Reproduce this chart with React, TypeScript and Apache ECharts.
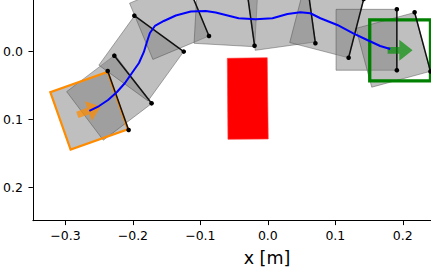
import React, { useEffect, useRef } from "react";
import * as echarts from "echarts";

// Axis ranges and ticks
const xTicks = [-0.3, -0.2, -0.1, 0.0, 0.1, 0.2];
const yTicks = [0.0, 0.1, 0.2];
const X_MIN = -0.3482;
const X_MAX = 0.2418;
const Y_MIN = -0.0764;
const Y_MAX = 0.2498;

// Object side length [m]
const SIDE = 0.09;

// Object snapshots (center x, center y, heading deg)
const poseX = [-0.2649, -0.2351, -0.1876, -0.1461, -0.0619, 0.0197, 0.0873, 0.1461, 0.1857];
const poseY = [0.0873, 0.0678, 0.0099, -0.0474, -0.0548, -0.0528, -0.0458, -0.0176, -0.0027];
const poseTheta = [-19.5, -37.1, -54.1, -22.6, 3.2, -7.9, 14.5, 0, -15.1];

// Pusher segments (endpoints)
const segX1 = [-0.2373, -0.2275, -0.1978, -0.1219, -0.0321, 0.0581, 0.1421, 0.1912, 0.2175];
const segY1 = [0.0285, 0.0059, -0.0532, -0.1064, -0.0981, -0.1017, -0.0779, -0.0627, -0.0582];
const segX2 = [-0.2063, -0.1723, -0.1246, -0.0872, -0.0197, 0.0705, 0.1197, 0.1912, 0.2411];
const segY2 = [0.1157, 0.0763, -0.0001, -0.0232, -0.0089, -0.0124, 0.0089, 0.0275, 0.0293];

// Trajectory of the object center
const trajX = [-0.2645, -0.2501, -0.2368, -0.2236, -0.2117, -0.2014, -0.191, -0.1837, -0.1792, -0.1748, -0.1674, -0.1541, -0.1364, -0.1142, -0.092, -0.0773, -0.0625, -0.0433, -0.0182, 0.0069, 0.0291, 0.0483, 0.0631, 0.0779, 0.103, 0.1266, 0.1473, 0.1665, 0.1813];
const trajY = [0.0876, 0.0803, 0.0714, 0.0596, 0.0463, 0.0315, 0.0167, 0.0004, -0.0143, -0.0276, -0.038, -0.0454, -0.0535, -0.0594, -0.0602, -0.0579, -0.0542, -0.0494, -0.0479, -0.0494, -0.0557, -0.0582, -0.0568, -0.0494, -0.0395, -0.0272, -0.0173, -0.0084, -0.004];

// Obstacle corners
const obstacleX = [-0.0601, -0.0009, 0.0006, -0.0591];
const obstacleY = [0.0098, 0.0089, 0.129, 0.1295];

// Start and goal poses (x, y, heading deg)
const startPose = [-0.2649, 0.0873, -19.5];
const goalPose = [0.196, -0.002, 0];

// Arrow geometry [m]
const ARROW_LEN = 0.037;
const ARROW_HEAD_LEN = 0.0197;
const ARROW_HEAD_W = 0.031;
const ARROW_SHAFT_W = 0.0099;

const FONT = "DejaVu Sans";

function fmt(v: number): string {
  const a = Math.abs(v);
  const s = a < 1e-9 ? "0.0" : a.toFixed(1);
  return v < -1e-9 ? "\u2212" + s : s;
}

function localToCoords(api: any, cx: number, cy: number, thDeg: number, pts: number[][]) {
  const t = (thDeg * Math.PI) / 180;
  const c = Math.cos(t);
  const s = Math.sin(t);
  return pts.map(([u, v]) => api.coord([cx + u * c - v * s, cy + u * s + v * c]));
}

function squareLocal(side: number) {
  const h = side / 2;
  return [
    [h, -h],
    [h, h],
    [-h, h],
    [-h, -h],
  ];
}

function arrowLocal() {
  const L = ARROW_LEN / 2;
  const hl = ARROW_HEAD_LEN;
  const hw = ARROW_HEAD_W / 2;
  const sw = ARROW_SHAFT_W / 2;
  return [
    [-L, -sw],
    [L - hl, -sw],
    [L - hl, -hw],
    [L, 0],
    [L - hl, hw],
    [L - hl, sw],
    [-L, sw],
  ];
}

export default function App() {
  const ref = useRef<HTMLDivElement>(null);

  useEffect(() => {
    if (!ref.current) return;
    const chart = echarts.init(ref.current, undefined, { renderer: "svg" });

    const poses = poseX.map((x, i) => [x, poseY[i], poseTheta[i]]);
    const segs = segX1.map((x, i) => [x, segY1[i], segX2[i], segY2[i]]);
    const traj = trajX.map((x, i) => [x, trajY[i]]);
    const markers = [
      [...startPose, 0],
      [...goalPose, 1],
    ];
    const outlineColors = ["#ff8c00", "#008000"];
    const outlineWidths = [2.2, 3.3];
    const arrowColors = ["rgba(255,140,0,0.72)", "rgba(0,140,0,0.68)"];

    const option: any = {
      animation: false,
      grid: { left: 31.7, right: 0, top: 0, bottom: 58.3, containLabel: false },
      xAxis: {
        type: "value",
        min: X_MIN,
        max: X_MAX,
        splitLine: { show: false },
        axisLine: { onZero: false, lineStyle: { color: "#000", width: 1 } },
        axisTick: { show: true, length: 4.4, customValues: xTicks, lineStyle: { color: "#000", width: 1 } },
        axisLabel: {
          customValues: xTicks,
          formatter: (v: number) => fmt(v),
          color: "#000",
          fontFamily: FONT,
          fontSize: 12.5,
          margin: 8,
        },
      },
      yAxis: {
        type: "value",
        inverse: true,
        min: Y_MIN,
        max: Y_MAX,
        splitLine: { show: false },
        axisLine: { onZero: false, lineStyle: { color: "#000", width: 1 } },
        axisTick: { show: true, length: 4.4, customValues: yTicks, lineStyle: { color: "#000", width: 1 } },
        axisLabel: {
          customValues: yTicks,
          formatter: (v: number) => fmt(v),
          color: "#000",
          fontFamily: FONT,
          fontSize: 12.5,
          margin: 10,
        },
      },
      graphic: [
        {
          type: "text",
          x: 267,
          y: 258,
          style: {
            text: "x [m]",
            fill: "#000",
            font: `17.5px "${FONT}"`,
            align: "center",
            verticalAlign: "middle",
          },
        },
      ],
      series: [
        {
          type: "custom",
          name: "object",
          clip: true,
          data: poses,
          renderItem: (params: any, api: any) => {
            const pts = localToCoords(api, api.value(0), api.value(1), api.value(2), squareLocal(SIDE));
            return {
              type: "polygon",
              shape: { points: pts },
              style: { fill: "rgba(128,128,128,0.5)", stroke: "rgba(70,70,70,0.55)", lineWidth: 0.8 },
            };
          },
        },
        {
          type: "custom",
          name: "start/goal",
          clip: true,
          data: markers,
          renderItem: (params: any, api: any) => {
            const k = api.value(3);
            const pts = localToCoords(api, api.value(0), api.value(1), api.value(2), squareLocal(SIDE));
            return {
              type: "polygon",
              shape: { points: pts },
              style: { fill: "none", stroke: outlineColors[k], lineWidth: outlineWidths[k], lineJoin: "miter" },
            };
          },
        },
        {
          type: "custom",
          name: "obstacle",
          clip: true,
          data: [[obstacleX[0], obstacleY[0]]],
          renderItem: (params: any, api: any) => {
            const pts = obstacleX.map((x, i) => api.coord([x, obstacleY[i]]));
            return {
              type: "polygon",
              shape: { points: pts },
              style: { fill: "#ff0000", stroke: "rgba(255,60,60,0.8)", lineWidth: 0.8 },
            };
          },
        },
        {
          type: "custom",
          name: "pusher",
          clip: true,
          data: segs,
          renderItem: (params: any, api: any) => {
            const p1 = api.coord([api.value(0), api.value(1)]);
            const p2 = api.coord([api.value(2), api.value(3)]);
            return {
              type: "group",
              children: [
                {
                  type: "line",
                  shape: { x1: p1[0], y1: p1[1], x2: p2[0], y2: p2[1] },
                  style: { stroke: "#111", lineWidth: 1.5 },
                },
                { type: "circle", shape: { cx: p1[0], cy: p1[1], r: 2.3 }, style: { fill: "#000" } },
                { type: "circle", shape: { cx: p2[0], cy: p2[1], r: 2.3 }, style: { fill: "#000" } },
              ],
            };
          },
        },
        {
          type: "line",
          name: "trajectory",
          data: traj,
          showSymbol: false,
          symbol: "none",
          clip: true,
          lineStyle: { color: "#0000ff", width: 2 },
        },
        {
          type: "custom",
          name: "arrows",
          clip: true,
          data: markers,
          renderItem: (params: any, api: any) => {
            const k = api.value(3);
            const pts = localToCoords(api, api.value(0), api.value(1), api.value(2), arrowLocal());
            return {
              type: "polygon",
              shape: { points: pts },
              style: { fill: arrowColors[k], stroke: "none" },
            };
          },
        },
      ],
    };

    chart.setOption(option);
    return () => chart.dispose();
  }, []);

  return (
    <div
      ref={ref}
      style={{ position: "fixed", left: 0, top: 0, width: 431, height: 279, background: "#fff" }}
    />
  );
}
